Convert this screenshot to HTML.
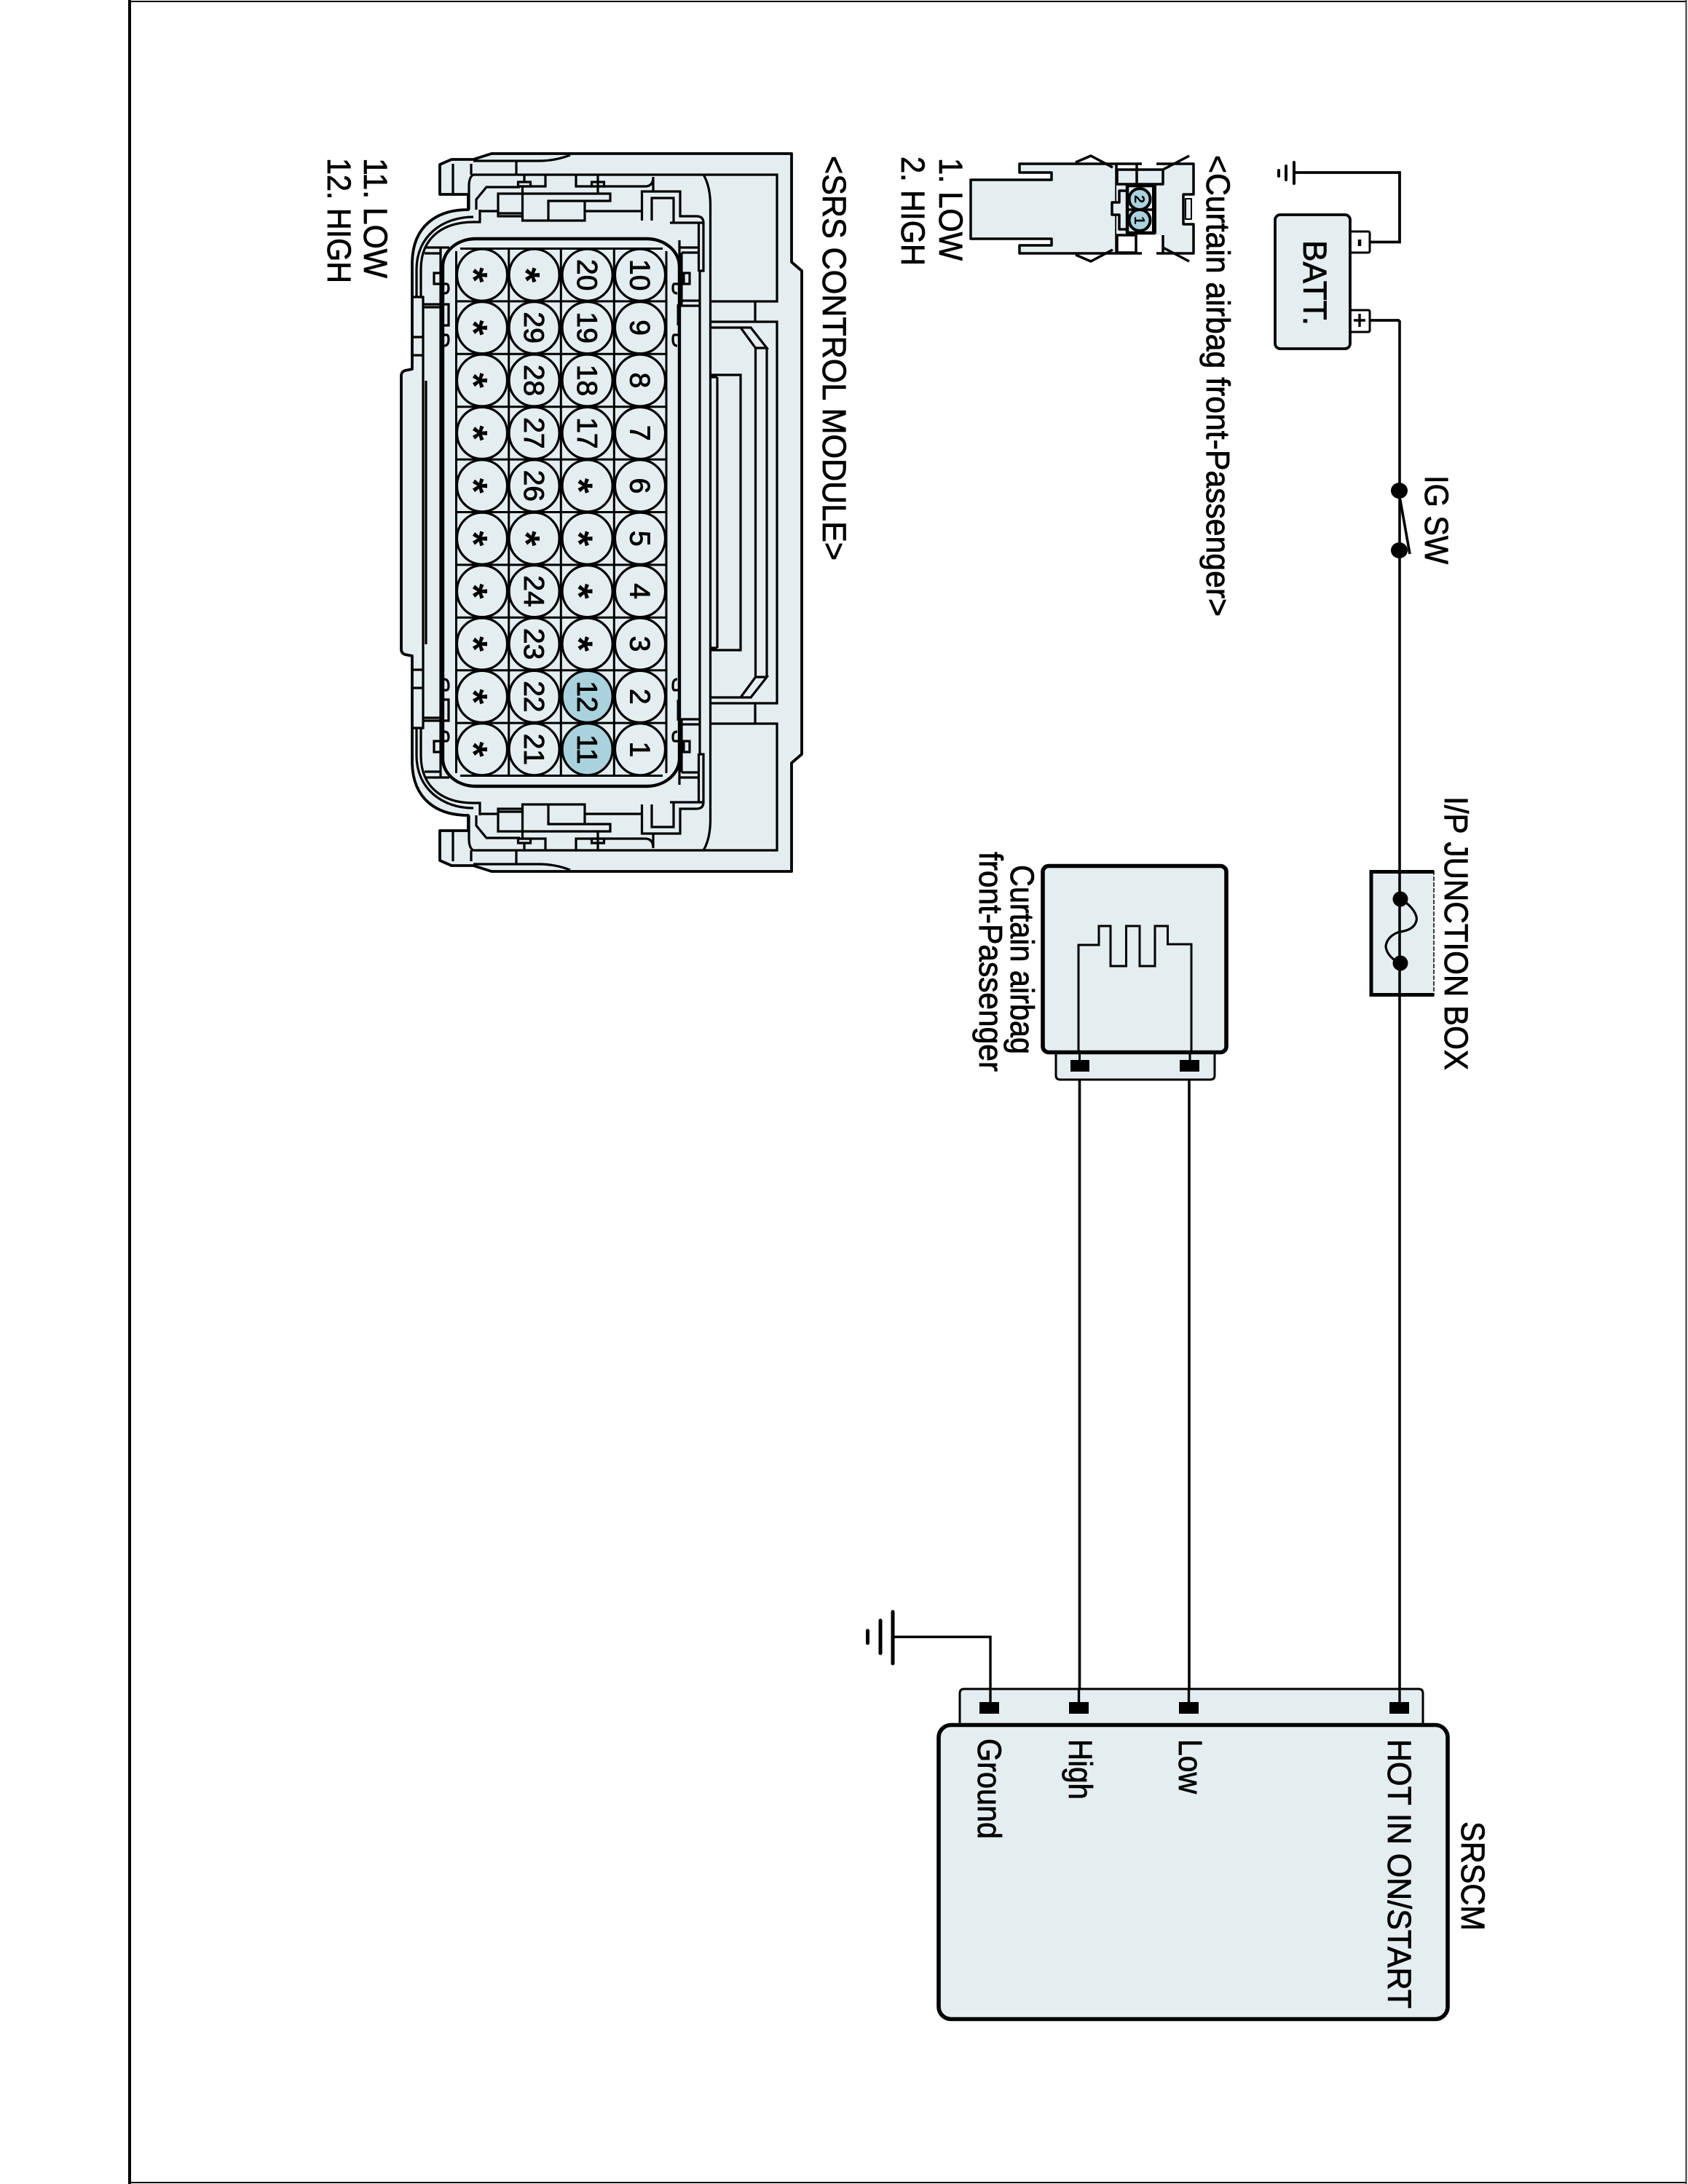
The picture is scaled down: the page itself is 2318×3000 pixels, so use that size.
<!DOCTYPE html>
<html><head><meta charset="utf-8"><style>
html,body{margin:0;padding:0;background:#fff}
svg{display:block}
text{font-family:"Liberation Sans",sans-serif;fill:#000}
</style></head><body>
<svg xmlns="http://www.w3.org/2000/svg" width="2318" height="3000" viewBox="0 0 2318 3000">
<rect width="2318" height="3000" fill="#fff"/>
<!-- page frame -->
<path d="M2316,2H178V2998H2316" fill="none" stroke="#000" stroke-width="2"/>
<path d="M178,0V3000" stroke="#000" stroke-width="4"/>
<path d="M2315.5,0V3000" stroke="#333" stroke-width="2"/>

<!-- SRS connector body -->
<path d="M1087,211L675,211L650,219L620,219L604,226L604,267L643,267L643,288C600,288 567,310 566,360L566,507L556,509Q551,511 551,516L551,892Q551,897 556,899L566,901L566,1048C567,1098 600,1120 643,1120L643,1141L604,1141L604,1182L620,1189L650,1189L675,1197L1087,1197L1087,1048L1101,1036L1101,372L1087,360Z" fill="#e4eef0" stroke="#000" stroke-width="3.8" stroke-linejoin="round"/>
<g fill="none" stroke="#000" stroke-width="3.2">
<g id="h">
<path d="M1067,704V442H977M1037,442V414M975.5,414H1067V240H650Q644,243 644,256V288"/>
<path d="M709,221V240M650,221H740Q762,221 783,213M647,225V240M622,225V267"/>
<path d="M966,240Q975,255 975.5,280V704M961,373V704"/>
<path d="M749,241V256H714M791,241V256H886Q897,256 897,243V262"/>
<path d="M654,288V274L668,257H714M711.5,250H728.5V256H711.5ZM812.5,250H829.5V256H812.5Z M720,240V250M821,240V266"/>
<path d="M716,297H684V266H838V276H753V303M803,276V303H717.5V256M684,293H716"/>
<path d="M659,290H684M803,290H881"/>
<path d="M881.5,303V263H934V297H956Q966,297 966,306V372H961M895,303V272H925V306H966M920,306H959.5V373"/>
<path d="M659,288V305H650C610,305 578,325 578,370V408"/>
<path d="M650,298C607,298 572,325 572,370V408"/>
<path d="M566,408H581V704M605,340V704"/>
<path d="M583,340H617M583,348H605M596,375H606V390H596Z"/>
<path d="M606,390H613Q616,390 616,396Q616,403 610,403H606M606,460H613Q616,460 616,466Q616,475 610,475H606M606,418H616V447H606"/>
<path d="M581,418H605M581,422H605M566,463H581M566,488H581M585,523V704"/>
<path d="M933,330V704M936,347H961M936,347V420H961M936,413H961M933,340H961M939,375H947V390H939Z"/>
<path d="M931,390H926Q924,390 924,396Q924,403 930,403M931,460H926Q924,460 924,466Q924,475 930,475"/>
<path d="M975,515H1017V704M985,518V704M975,518H985"/>
<path d="M975,450H1017M1017,450H1031L1053,478H1037.5ZM1037.5,478V704M1053,478V704"/>
</g>
<use href="#h" transform="matrix(1 0 0 -1 0 1408)"/>
<path d="M932,418V447M932,961V990" stroke-width="5"/>
<!-- inner shell -->
<rect x="608" y="328" width="325" height="752" rx="45" ry="38" stroke-width="4.4"/>
</g>
<!-- grid -->
<g stroke="#000" stroke-width="3" fill="none">
<path d="M626.5,345V1062M698.7,341V1066M770.3,341V1066M843.3,341V1066M915,345V1062"/>
<path d="M632,341.5H910M626.5,413.9H915M626.5,486.3H915M626.5,558.7H915M626.5,631.1H915M626.5,703.5H915M626.5,775.9H915M626.5,848.3H915M626.5,920.7H915M626.5,993.1H915M632,1065.5H910"/>
</g>
<!-- pins -->
<g fill="#e4eef0" stroke="#000" stroke-width="3.2">
<ellipse cx="662" cy="377.7" rx="34.5" ry="35.5"/><ellipse cx="733.6" cy="377.7" rx="34.5" ry="35.5"/><ellipse cx="806.6" cy="377.7" rx="34.5" ry="35.5"/><ellipse cx="879" cy="377.7" rx="34.5" ry="35.5"/>
<ellipse cx="662" cy="450.1" rx="34.5" ry="35.5"/><ellipse cx="733.6" cy="450.1" rx="34.5" ry="35.5"/><ellipse cx="806.6" cy="450.1" rx="34.5" ry="35.5"/><ellipse cx="879" cy="450.1" rx="34.5" ry="35.5"/>
<ellipse cx="662" cy="522.5" rx="34.5" ry="35.5"/><ellipse cx="733.6" cy="522.5" rx="34.5" ry="35.5"/><ellipse cx="806.6" cy="522.5" rx="34.5" ry="35.5"/><ellipse cx="879" cy="522.5" rx="34.5" ry="35.5"/>
<ellipse cx="662" cy="594.9" rx="34.5" ry="35.5"/><ellipse cx="733.6" cy="594.9" rx="34.5" ry="35.5"/><ellipse cx="806.6" cy="594.9" rx="34.5" ry="35.5"/><ellipse cx="879" cy="594.9" rx="34.5" ry="35.5"/>
<ellipse cx="662" cy="667.3" rx="34.5" ry="35.5"/><ellipse cx="733.6" cy="667.3" rx="34.5" ry="35.5"/><ellipse cx="806.6" cy="667.3" rx="34.5" ry="35.5"/><ellipse cx="879" cy="667.3" rx="34.5" ry="35.5"/>
<ellipse cx="662" cy="739.7" rx="34.5" ry="35.5"/><ellipse cx="733.6" cy="739.7" rx="34.5" ry="35.5"/><ellipse cx="806.6" cy="739.7" rx="34.5" ry="35.5"/><ellipse cx="879" cy="739.7" rx="34.5" ry="35.5"/>
<ellipse cx="662" cy="812.1" rx="34.5" ry="35.5"/><ellipse cx="733.6" cy="812.1" rx="34.5" ry="35.5"/><ellipse cx="806.6" cy="812.1" rx="34.5" ry="35.5"/><ellipse cx="879" cy="812.1" rx="34.5" ry="35.5"/>
<ellipse cx="662" cy="884.5" rx="34.5" ry="35.5"/><ellipse cx="733.6" cy="884.5" rx="34.5" ry="35.5"/><ellipse cx="806.6" cy="884.5" rx="34.5" ry="35.5"/><ellipse cx="879" cy="884.5" rx="34.5" ry="35.5"/>
<ellipse cx="662" cy="956.9" rx="34.5" ry="35.5"/><ellipse cx="733.6" cy="956.9" rx="34.5" ry="35.5"/><ellipse cx="806.6" cy="956.9" rx="34.5" ry="35.5" fill="#a9d2dd"/><ellipse cx="879" cy="956.9" rx="34.5" ry="35.5"/>
<ellipse cx="662" cy="1029.3" rx="34.5" ry="35.5"/><ellipse cx="733.6" cy="1029.3" rx="34.5" ry="35.5"/><ellipse cx="806.6" cy="1029.3" rx="34.5" ry="35.5" fill="#a9d2dd"/><ellipse cx="879" cy="1029.3" rx="34.5" ry="35.5"/>
</g>
<!-- pin numbers -->
<g font-size="39" text-anchor="middle" stroke="#000" stroke-width="0.9">
<text transform="translate(865.5,377.7) rotate(90)">10</text><text transform="translate(865.5,450.1) rotate(90)">9</text><text transform="translate(865.5,522.5) rotate(90)">8</text><text transform="translate(865.5,594.9) rotate(90)">7</text><text transform="translate(865.5,667.3) rotate(90)">6</text><text transform="translate(865.5,739.7) rotate(90)">5</text><text transform="translate(865.5,812.1) rotate(90)">4</text><text transform="translate(865.5,884.5) rotate(90)">3</text><text transform="translate(865.5,956.9) rotate(90)">2</text><text transform="translate(865.5,1029.3) rotate(90)">1</text>
<text transform="translate(793,377.7) rotate(90)">20</text><text transform="translate(793,450.1) rotate(90)">19</text><text transform="translate(793,522.5) rotate(90)">18</text><text transform="translate(793,594.9) rotate(90)">17</text><text transform="translate(793,956.9) rotate(90)">12</text><text transform="translate(793,1029.3) rotate(90)">11</text>
<text transform="translate(720,450.1) rotate(90)">29</text><text transform="translate(720,522.5) rotate(90)">28</text><text transform="translate(720,594.9) rotate(90)">27</text><text transform="translate(720,667.3) rotate(90)">26</text><text transform="translate(720,812.1) rotate(90)">24</text><text transform="translate(720,884.5) rotate(90)">23</text><text transform="translate(720,956.9) rotate(90)">22</text><text transform="translate(720,1029.3) rotate(90)">21</text>
</g>
<g font-size="54" font-weight="bold" text-anchor="middle">
<text transform="translate(632,377.7) rotate(90)">*</text><text transform="translate(632,450.1) rotate(90)">*</text><text transform="translate(632,522.5) rotate(90)">*</text><text transform="translate(632,594.9) rotate(90)">*</text><text transform="translate(632,667.3) rotate(90)">*</text><text transform="translate(632,739.7) rotate(90)">*</text><text transform="translate(632,812.1) rotate(90)">*</text><text transform="translate(632,884.5) rotate(90)">*</text><text transform="translate(632,956.9) rotate(90)">*</text><text transform="translate(632,1029.3) rotate(90)">*</text>
<text transform="translate(704,377.7) rotate(90)">*</text><text transform="translate(704,739.7) rotate(90)">*</text>
<text transform="translate(776.5,667.3) rotate(90)">*</text><text transform="translate(776.5,739.7) rotate(90)">*</text><text transform="translate(776.5,812.1) rotate(90)">*</text><text transform="translate(776.5,884.5) rotate(90)">*</text>
</g>

<!-- curtain airbag connector view -->
<g stroke="#000" stroke-width="3.5" stroke-linejoin="round">
<path d="M1533,225H1400V237H1444V247H1333V328H1444V337H1400V348H1533Z" fill="#e4eef0"/>
<path d="M1597,225H1639V267H1625V308H1639V348H1597Z" fill="#e4eef0" stroke="none"/>
<path d="M1597,225H1639V267H1625V308H1639V348H1597" fill="none"/>
<rect x="1533" y="253" width="64" height="70" fill="#e4eef0" stroke="none"/>
<rect x="1628" y="273" width="8" height="28" fill="#e4eef0" stroke-width="2"/>
<path d="M1534,225H1568M1588,225H1597M1534,348H1568M1588,348H1597" fill="none"/>
<rect x="1534" y="233" width="63" height="20" fill="#e4eef0"/>
<path d="M1561,225V253" fill="none"/>
<path d="M1534,323H1560V347H1534Z" fill="#fff"/>
<path d="M1597,323V348" fill="none"/>
<path d="M1548,262H1537V278H1527V295H1537V315H1548" fill="#e4eef0"/>
<path d="M1477,223L1498,214L1528,230M1477,350L1498,359L1528,343M1597,233L1633,214M1597,340L1633,359" fill="none"/>
<rect x="1548" y="255" width="37" height="65" fill="#e4eef0" stroke-width="4.5"/>
<path d="M1585,254V321" stroke-width="6" fill="none"/>
<path d="M1548,288H1585" fill="none"/>
<circle cx="1565" cy="273.5" r="14.5" fill="#a9d2dd" stroke-width="4"/>
<circle cx="1565" cy="302.5" r="14.5" fill="#a9d2dd" stroke-width="4"/>
</g>
<g font-size="20" font-weight="bold" text-anchor="middle">
<text transform="translate(1558,273.5) rotate(90)">2</text>
<text transform="translate(1558,302.5) rotate(90)">1</text>
</g>

<!-- wires -->
<g fill="none" stroke="#000" stroke-width="3.6">
<path d="M1922,440V2346"/>
<path d="M1482.5,1445V2346M1633,1445V2346"/>
<path d="M1881,440H1922M1881,332.5H1922V237H1778" stroke-width="3.8"/>
<path d="M1360,2346V2248.5H1226" stroke-width="3.4"/>
<path d="M1922.7,686L1936,761" stroke-width="3.6"/>
</g>
<!-- grounds -->
<g stroke="#000" stroke-linecap="round" fill="none">
<path d="M1226,2214V2285M1209,2226V2271M1191.5,2240V2257" stroke-width="5"/>
<path d="M1777,223V252M1766,228V247M1756,234V242" stroke-width="4"/>
</g>
<!-- battery -->
<rect x="1854" y="318" width="27" height="29" rx="2" fill="#fff" stroke="#000" stroke-width="3"/>
<rect x="1854" y="426" width="27" height="30" rx="2" fill="#fff" stroke="#000" stroke-width="3"/>
<rect x="1751" y="295" width="103" height="184" rx="7" fill="#e4eef0" stroke="#000" stroke-width="3.8"/>
<path d="M1867,329V338" stroke="#000" stroke-width="4.5"/>
<path d="M1867,431V449M1859,440H1875" stroke="#000" stroke-width="3.4"/>
<!-- switch dots -->
<ellipse cx="1921.5" cy="674" rx="11.5" ry="11" fill="#000"/>
<ellipse cx="1921.5" cy="756" rx="11.5" ry="11" fill="#000"/>
<!-- junction box -->
<rect x="1883" y="1197" width="86" height="170" fill="#e4eef0"/>
<path d="M1969,1196V1368" stroke="#000" stroke-width="1.5" stroke-dasharray="6 2"/>
<path d="M1969,1197.5H1883V1366.5H1969" fill="none" stroke="#000" stroke-width="5"/>
<path d="M1922,1196V1368" stroke="#000" stroke-width="3.6"/>
<path d="M1925,1236C1940,1245 1947,1258 1945,1265C1942,1276 1930,1279 1922,1280C1912,1283 1904,1290 1903,1300C1904,1310 1912,1318 1923,1324" fill="none" stroke="#000" stroke-width="3.2"/>
<circle cx="1923" cy="1235" r="10.5" fill="#000"/>
<circle cx="1923" cy="1323" r="10.5" fill="#000"/>
<!-- curtain airbag -->
<path d="M1450,1445V1477Q1450,1483 1456,1483H1662Q1668,1483 1668,1477V1445" fill="#e4eef0" stroke="#000" stroke-width="3"/>
<rect x="1432" y="1189.5" width="252" height="256" rx="8" fill="#e4eef0" stroke="#000" stroke-width="5.6"/>
<path d="M1481,1443V1298H1509V1272H1525V1327H1546.5V1272H1565V1327H1586V1272H1603.5V1297H1636V1443" fill="none" stroke="#000" stroke-width="3"/>
<rect x="1470" y="1456" width="26" height="16" fill="#000"/>
<rect x="1620" y="1456" width="27" height="16" fill="#000"/>
<path d="M1482.5,1445V1456M1634,1445V1456" stroke="#000" stroke-width="3"/>
<!-- SRSCM -->
<path d="M1318,2370V2326Q1318,2320 1324,2320H1948Q1954,2320 1954,2326V2370" fill="#e4eef0" stroke="#000" stroke-width="3"/>
<path d="M1360,2320V2340M1481.5,2320V2340M1632.5,2320V2340M1922,2320V2340" stroke="#000" stroke-width="3.4"/>
<rect x="1345" y="2338" width="27" height="16" fill="#000"/>
<rect x="1468" y="2338" width="27" height="16" fill="#000"/>
<rect x="1619" y="2338" width="27" height="16" fill="#000"/>
<rect x="1908" y="2338" width="27" height="16" fill="#000"/>
<rect x="1289" y="2369.5" width="699" height="404" rx="17" fill="#e4eef0" stroke="#000" stroke-width="5.6"/>

<!-- labels -->
<g font-size="45" stroke="#000" stroke-width="0.8">
<text transform="translate(500,217) rotate(90)" textLength="165" lengthAdjust="spacingAndGlyphs">11. LOW</text>
<text transform="translate(450,217) rotate(90)" textLength="172" lengthAdjust="spacingAndGlyphs">12. HIGH</text>
<text transform="translate(1130,214) rotate(90)" textLength="556" lengthAdjust="spacingAndGlyphs">&lt;SRS CONTROL MODULE&gt;</text>
<text transform="translate(1290,217) rotate(90)" textLength="141" lengthAdjust="spacingAndGlyphs">1. LOW</text>
<text transform="translate(1238,215) rotate(90)" textLength="150" lengthAdjust="spacingAndGlyphs">2. HIGH</text>
<text transform="translate(1657,213) rotate(90)" textLength="634" lengthAdjust="spacingAndGlyphs">&lt;Curtain airbag front-Passenger&gt;</text>
<text transform="translate(1388,1188) rotate(90)" textLength="260" lengthAdjust="spacingAndGlyphs">Curtain airbag</text>
<text transform="translate(1345,1170) rotate(90)" textLength="302" lengthAdjust="spacingAndGlyphs">front-Passenger</text>
<text transform="translate(1984,1094) rotate(90)" textLength="376" lengthAdjust="spacingAndGlyphs">I/P JUNCTION BOX</text>
<text transform="translate(1957,653) rotate(90)" textLength="122" lengthAdjust="spacingAndGlyphs">IG SW</text>
<text transform="translate(1790,330) rotate(90)" textLength="117" lengthAdjust="spacingAndGlyphs">BATT.</text>
<text transform="translate(1906,2389) rotate(90)" textLength="370" lengthAdjust="spacingAndGlyphs">HOT IN ON/START</text>
<text transform="translate(1619,2389) rotate(90)" textLength="75" lengthAdjust="spacingAndGlyphs">Low</text>
<text transform="translate(1468,2389) rotate(90)" textLength="83" lengthAdjust="spacingAndGlyphs">High</text>
<text transform="translate(1343,2388) rotate(90)" textLength="138" lengthAdjust="spacingAndGlyphs">Ground</text>
<text transform="translate(2007,2502) rotate(90)" textLength="150" lengthAdjust="spacingAndGlyphs">SRSCM</text>
</g>
</svg>
</body></html>
